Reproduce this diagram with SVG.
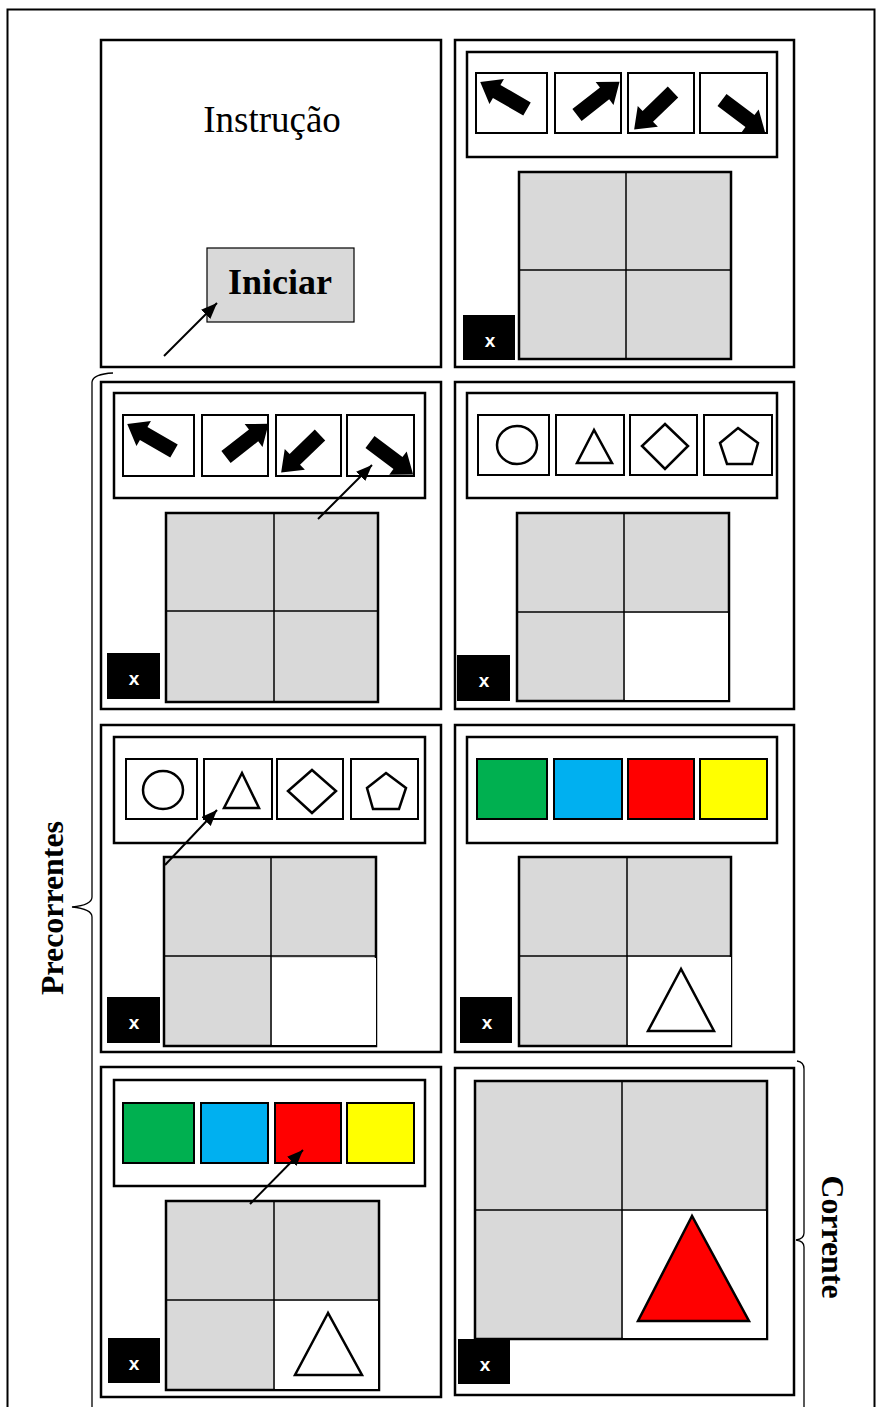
<svg xmlns="http://www.w3.org/2000/svg" width="877" height="1407" viewBox="0 0 877 1407">
<style>
.panel{fill:#fff;stroke:#000;stroke-width:2.5}
.box{fill:#fff;stroke:#000;stroke-width:2.5}
.cell{fill:#fff;stroke:#000;stroke-width:2}
.green{fill:#00b050}
.blue{fill:#00b0f0}
.red{fill:#ff0000}
.yellow{fill:#ffff00}
.grid{fill:#d9d9d9;stroke:#000;stroke-width:2.5}
.div{stroke:#000;stroke-width:1.5}
.wc{fill:#fff}
.sh{fill:none;stroke:#000;stroke-width:2.5}
.xb{fill:#000}
.xt{fill:#fff;font-family:"Liberation Sans",Arial,sans-serif;font-weight:bold;font-size:19px;text-anchor:middle}
.ptr{stroke:#000;stroke-width:2;fill:none}
.brace{fill:none;stroke:#000;stroke-width:1.3}
.lbl{font-family:"Liberation Serif","Times New Roman",serif;font-weight:bold;font-size:32px;text-anchor:middle}
</style>
<defs>
<path id="blk" d="M0,-7.5 H35 V-14.5 L54,0 L35,14.5 V7.5 H0 Z" fill="#000"/>
<marker id="ah" markerUnits="userSpaceOnUse" markerWidth="18" markerHeight="14" refX="16" refY="6.5" orient="auto">
<path d="M0,0 L16,6.5 L0,13 z" fill="#000"/>
</marker>
</defs>
<rect x="7.5" y="9.5" width="867" height="1420" fill="#fff" stroke="#000" stroke-width="2"/>

<g id="braces">
<path class="brace" d="M113,373 Q93,374 92,382 L92,897 Q92,905 72,907 Q92,909 92,917 L92,1410"/>
<path class="brace" d="M797,1061 Q804,1062 804,1069 L804,1233 Q804,1239 796,1240 Q804,1241 804,1247 L804,1410"/>
<text class="lbl" transform="translate(63,908) rotate(-90)" textLength="174" lengthAdjust="spacingAndGlyphs">Precorrentes</text>
<text class="lbl" transform="translate(822,1237) rotate(90)" textLength="123" lengthAdjust="spacingAndGlyphs">Corrente</text>
</g>

<g id="instrucao">
<rect class="panel" x="101" y="40" width="340" height="327"/>
<text x="272" y="132" font-family="Liberation Serif,Times New Roman,serif" font-size="37" text-anchor="middle">Instrução</text>
<rect x="207" y="248" width="147" height="74" fill="#d9d9d9" stroke="#000" stroke-width="1.2"/>
<text x="280" y="294" font-family="Liberation Serif,Times New Roman,serif" font-size="36" font-weight="bold" text-anchor="middle">Iniciar</text>
</g>

<g id="p1">
<rect class="panel" x="455" y="40" width="339" height="327"/>
<rect class="box" x="467" y="52" width="310" height="105"/>
<rect class="cell" x="476" y="73" width="71" height="60"/>
<rect class="cell" x="555" y="73" width="66" height="60"/>
<rect class="cell" x="628" y="73" width="66" height="60"/>
<rect class="cell" x="700" y="73" width="67" height="60"/>
<use href="#blk" transform="translate(527,109) rotate(210)"/>
<use href="#blk" transform="translate(577,115) rotate(-38)"/>
<use href="#blk" transform="translate(673,92) rotate(136)"/>
<use href="#blk" transform="translate(722,100) rotate(37)"/>
<rect class="grid" x="519" y="172" width="212" height="187"/>
<line class="div" x1="626" y1="172" x2="626" y2="359"/>
<line class="div" x1="519" y1="270" x2="731" y2="270"/>
<rect class="xb" x="463" y="315" width="52" height="45"/>
<text class="xt" x="490" y="347">x</text>
</g>

<g id="p2">
<rect class="panel" x="101" y="382" width="340" height="327"/>
<rect class="box" x="114" y="393" width="311" height="105"/>
<rect class="cell" x="123" y="415" width="71" height="61"/>
<rect class="cell" x="202" y="415" width="66" height="61"/>
<rect class="cell" x="276" y="415" width="65" height="61"/>
<rect class="cell" x="347" y="415" width="67" height="61"/>
<use href="#blk" transform="translate(174,451) rotate(210)"/>
<use href="#blk" transform="translate(226,457) rotate(-38)"/>
<use href="#blk" transform="translate(320,435) rotate(136)"/>
<use href="#blk" transform="translate(370,442) rotate(37)"/>
<rect class="grid" x="166" y="513" width="212" height="189"/>
<line class="div" x1="274" y1="513" x2="274" y2="702"/>
<line class="div" x1="166" y1="611" x2="378" y2="611"/>
<rect class="xb" x="107" y="653" width="53" height="46"/>
<text class="xt" x="134" y="685">x</text>
</g>

<g id="p3">
<rect class="panel" x="455" y="382" width="339" height="327"/>
<rect class="box" x="467" y="393" width="310" height="105"/>
<rect class="cell" x="478" y="415" width="71" height="60"/>
<rect class="cell" x="556" y="415" width="68" height="60"/>
<rect class="cell" x="630" y="415" width="67" height="60"/>
<rect class="cell" x="704" y="415" width="68" height="60"/>
<ellipse class="sh" cx="517" cy="445" rx="20" ry="19"/>
<polygon class="sh" points="594,430 577,463 612,463"/>
<polygon class="sh" points="665,424 688,446 665,469 642,446"/>
<polygon class="sh" points="738,428 758,443 752,464 727,464 720,443"/>
<rect class="grid" x="517" y="513" width="212" height="188"/>
<rect class="wc" x="625" y="613" width="103" height="87"/>
<line class="div" x1="624" y1="513" x2="624" y2="701"/>
<line class="div" x1="517" y1="612" x2="729" y2="612"/>
<rect class="xb" x="457" y="655" width="53" height="46"/>
<text class="xt" x="484" y="687">x</text>
</g>

<g id="p4">
<rect class="panel" x="101" y="725" width="340" height="327"/>
<rect class="box" x="114" y="737" width="311" height="106"/>
<rect class="cell" x="126" y="759" width="71" height="60"/>
<rect class="cell" x="204" y="759" width="68" height="60"/>
<rect class="cell" x="277" y="759" width="66" height="60"/>
<rect class="cell" x="351" y="759" width="67" height="60"/>
<ellipse class="sh" cx="163" cy="790" rx="20" ry="19"/>
<polygon class="sh" points="242,773 224,808 259,808"/>
<polygon class="sh" points="312,770 336,791 312,813 288,791"/>
<polygon class="sh" points="386,773 406,788 399,809 373,809 367,788"/>
<rect class="grid" x="164" y="857" width="212" height="189"/>
<rect class="wc" x="272" y="958" width="104" height="87"/>
<line class="div" x1="271" y1="857" x2="271" y2="1046"/>
<line class="div" x1="164" y1="956" x2="376" y2="956"/>
<rect class="xb" x="107" y="997" width="53" height="46"/>
<text class="xt" x="134" y="1029">x</text>
</g>

<g id="p5">
<rect class="panel" x="455" y="725" width="339" height="327"/>
<rect class="box" x="467" y="737" width="310" height="106"/>
<rect class="cell green" x="477" y="759" width="70" height="60"/>
<rect class="cell blue" x="554" y="759" width="68" height="60"/>
<rect class="cell red" x="628" y="759" width="66" height="60"/>
<rect class="cell yellow" x="700" y="759" width="67" height="60"/>
<rect class="grid" x="519" y="857" width="212" height="189"/>
<rect class="wc" x="628" y="957" width="103" height="88"/>
<line class="div" x1="627" y1="857" x2="627" y2="1046"/>
<line class="div" x1="519" y1="956" x2="731" y2="956"/>
<polygon class="sh" points="681,969 648,1031 714,1031"/>
<rect class="xb" x="460" y="997" width="52" height="46"/>
<text class="xt" x="487" y="1029">x</text>
</g>

<g id="p6">
<rect class="panel" x="101" y="1067" width="340" height="330"/>
<rect class="box" x="114" y="1080" width="311" height="106"/>
<rect class="cell green" x="123" y="1103" width="71" height="60"/>
<rect class="cell blue" x="201" y="1103" width="67" height="60"/>
<rect class="cell red" x="275" y="1103" width="66" height="60"/>
<rect class="cell yellow" x="347" y="1103" width="67" height="60"/>
<rect class="grid" x="166" y="1201" width="213" height="189"/>
<rect class="wc" x="275" y="1301" width="103" height="88"/>
<line class="div" x1="274" y1="1201" x2="274" y2="1390"/>
<line class="div" x1="166" y1="1300" x2="379" y2="1300"/>
<polygon class="sh" points="328,1313 295,1375 362,1375"/>
<rect class="xb" x="108" y="1338" width="52" height="45"/>
<text class="xt" x="134" y="1370">x</text>
</g>

<g id="p7">
<rect class="panel" x="455" y="1068" width="339" height="327"/>
<rect class="grid" x="475" y="1081" width="292" height="258"/>
<rect class="wc" x="623" y="1211" width="143" height="127"/>
<line class="div" x1="622" y1="1081" x2="622" y2="1339"/>
<line class="div" x1="475" y1="1210" x2="767" y2="1210"/>
<polygon points="692,1216 638,1321 749,1321" fill="#ff0000" stroke="#000" stroke-width="2.5"/>
<rect class="xb" x="458" y="1339" width="52" height="45"/>
<text class="xt" x="485" y="1371">x</text>
</g>

<g id="connectors">
<line class="ptr" x1="164" y1="356" x2="217" y2="303" marker-end="url(#ah)"/>
<line class="ptr" x1="318" y1="519" x2="372" y2="465" marker-end="url(#ah)"/>
<line class="ptr" x1="165" y1="865" x2="217" y2="810" marker-end="url(#ah)"/>
<line class="ptr" x1="250" y1="1204" x2="303" y2="1150" marker-end="url(#ah)"/>
</g>
</svg>
